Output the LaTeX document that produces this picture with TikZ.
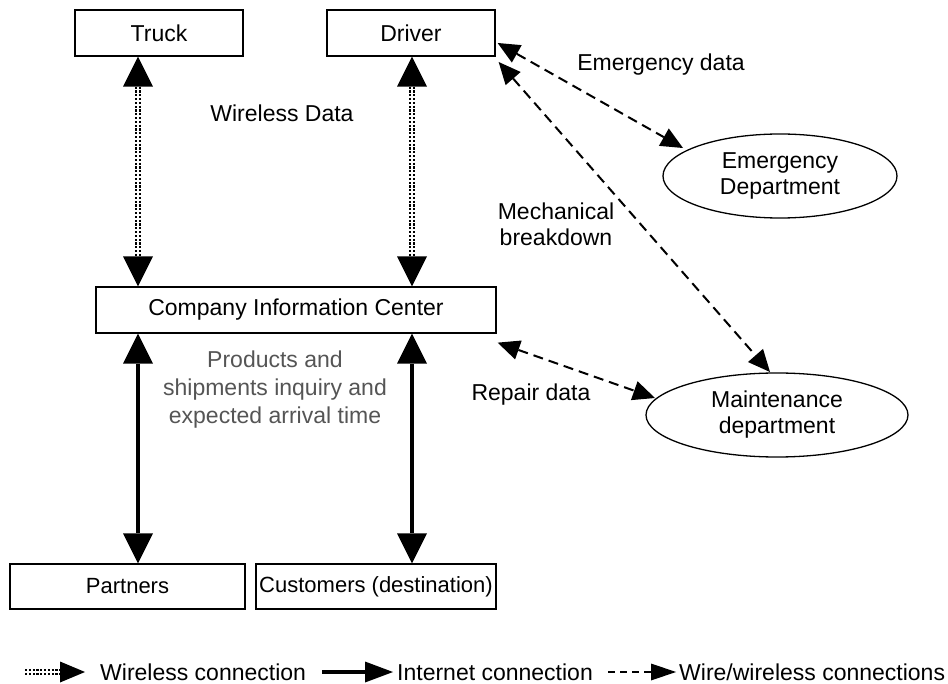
\documentclass[tikz,border=0pt]{standalone}
\usepackage{fontspec}
\setmainfont{Liberation Sans}
\usetikzlibrary{arrows.meta,calc,shapes.geometric}
\definecolor{txtgray}{RGB}{85,85,85}
\begin{document}
\begin{tikzpicture}[x=1pt,y=-1pt,
  every node/.style={font=\fontsize{23}{26}\selectfont, inner sep=0pt},
  small/.style={font=\fontsize{22}{25}\selectfont},
  graytxt/.style={font=\fontsize{23}{28}\selectfont, text=txtgray},
  box/.style={draw, line width=1.3pt, rectangle, fill=white},
  oval/.style={draw, line width=1.3pt, ellipse, align=center},
  lbl/.style={align=center},
  wlline/.style={line width=6pt, dash pattern=on 2.2pt off 1.6pt},
  wlgap/.style={white, line width=1.2pt},
  wl/.style={wlline, {Triangle[width=30pt,length=30pt,line width=0pt]}-{Triangle[width=30pt,length=30pt,line width=0pt]}},
  net/.style={line width=3.5pt, {Triangle[width=30pt,length=30pt,line width=0pt]}-{Triangle[width=30pt,length=30pt,line width=0pt]}},
  wire/.style={line width=2pt, dash pattern=on 10pt off 6pt, {Triangle[width=20pt,length=22pt,line width=0pt]}-{Triangle[width=20pt,length=22pt,line width=0pt]}}
]
\useasboundingbox[fill=white] (0,0) rectangle (948,684);

% boxes
\node[box, minimum width=168pt, minimum height=46pt] (truck) at (159,33) {Truck};
\node[box, minimum width=168pt, minimum height=46pt] (driver) at (411,33) {Driver};
\node[box, minimum width=400pt, minimum height=46pt] (cic) at (296,310) {Company Information Center};
\node[box, small, minimum width=235pt, minimum height=45pt] (partners) at (127.5,586.5) {Partners};
\node[box, small, minimum width=240pt, minimum height=45pt] (cust) at (376,586.5) {Customers (destination)};

% ellipses
\node[oval, minimum width=234pt, minimum height=84pt] (emerg) at (780,176) {Emergency\\Department};
\node[oval, minimum width=262pt, minimum height=84pt] (maint) at (777,415) {Maintenance\\department};

% wireless connections
\draw[wl] ([xshift=-21pt]truck.south) -- ([xshift=-158pt]cic.north);
\draw[wlgap] ([shift={(-21,30)}]truck.south) -- ([shift={(-158,-30)}]cic.north);
\draw[wl] ([xshift=1pt]driver.south) -- ([xshift=116pt]cic.north);
\draw[wlgap] ([shift={(1,30)}]driver.south) -- ([shift={(116,-30)}]cic.north);

% internet connections
\draw[net] ([xshift=-158pt]cic.south) -- ([xshift=10.5pt]partners.north);
\draw[net] ([xshift=116pt]cic.south) -- ([xshift=36pt]cust.north);

% wire / wireless connections
\draw[wire] ([shift={(2,10)}]driver.east) -- ([shift={(-97,-28)}]emerg.center);
\draw[wire] ([shift={(3,29)}]driver.east) -- ([shift={(-7,-43)}]maint.center);
\draw[wire] ([shift={(1,9)}]cic.south east) -- ([shift={(-122,-17)}]maint.center);

% labels
\node[lbl] (wdata) at (282,113) {Wireless Data};
\node[lbl] (edata) at (661,65) {Emergency data};
\node[lbl] (mech) at (556,224) {Mechanical\\breakdown};
\node[lbl] (rdata) at (531,395) {Repair data};
\node[lbl, graytxt] (prod) at (275,390) {Products and\\shipments inquiry and\\expected arrival time};

% legend
\node[anchor=west] (l1t) at (100,672) {Wireless connection};
\node[anchor=west] (l2t) at (397,672) {Internet connection};
\node[anchor=west] (l3t) at (679,672) {Wire/wireless connections};
\coordinate (l1s) at (25,672);
\coordinate (l2s) at (322,672);
\coordinate (l3s) at (608,672);
\draw[line width=6pt, dash pattern=on 2.2pt off 1.6pt, -{Triangle[width=21pt,length=25pt,line width=0pt]}] (l1s) -- ([xshift=-15pt]l1t.west);
\draw[wlgap] (l1s) -- ([xshift=-40pt]l1t.west);
\draw[line width=3.5pt, -{Triangle[width=21pt,length=28pt,line width=0pt]}] (l2s) -- ([xshift=-4pt]l2t.west);
\draw[line width=1.5pt, dash pattern=on 7pt off 5pt, -{Triangle[width=17pt,length=25pt,line width=0pt]}] (l3s) -- ([xshift=-3pt]l3t.west);
\end{tikzpicture}
\end{document}
